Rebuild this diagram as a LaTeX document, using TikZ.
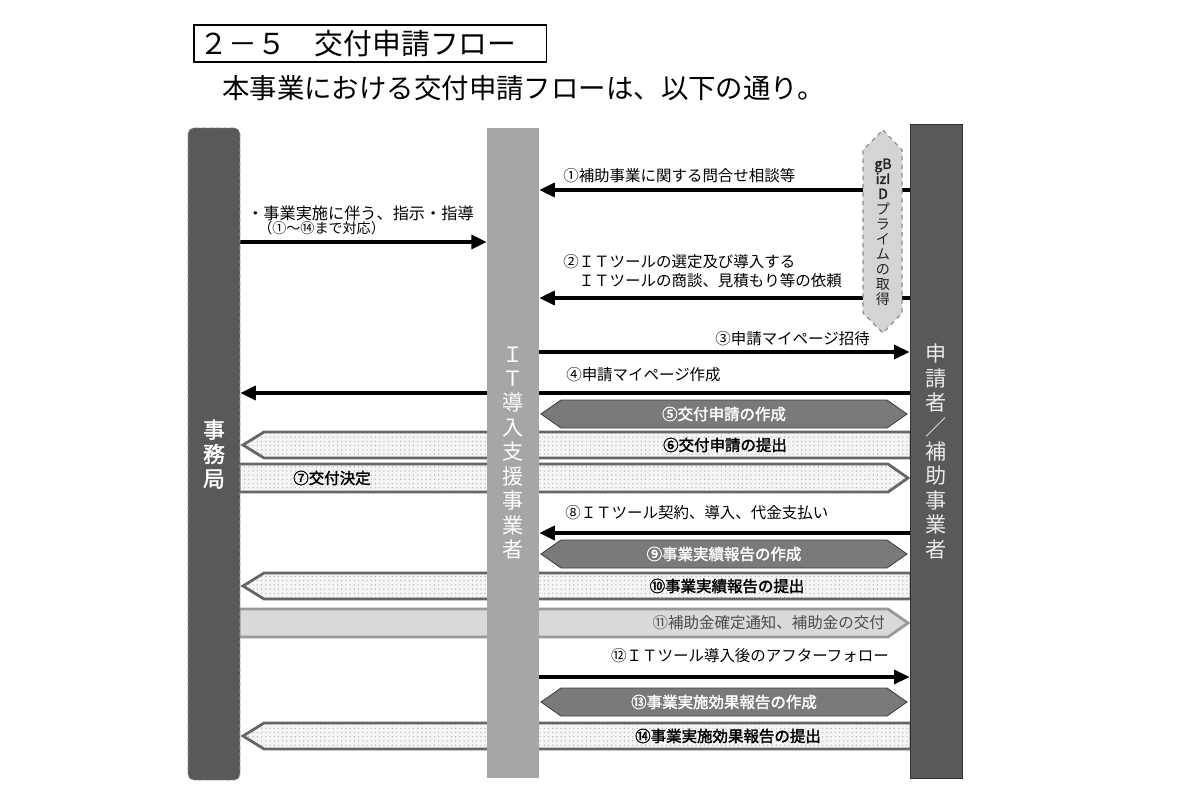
\documentclass[tikz,border=0pt]{standalone}
\usepackage{fontspec}
\setmainfont{Noto Sans CJK JP}
\newfontfamily\semib[FakeBold=2]{Noto Sans CJK JP}
\usetikzlibrary{arrows.meta,patterns}

\definecolor{lanedark}{HTML}{595959}
\definecolor{laneit}{HTML}{A6A6A6}
\definecolor{makegray}{HTML}{7A7A7A}
\definecolor{paygray}{HTML}{D9D9D9}

\pgfdeclarelayer{bg}
\pgfsetlayers{bg,main}

\begin{document}
\begin{tikzpicture}[x=0.025cm, y=-0.025cm,
  lane/.style={rectangle, minimum width=1.3cm, inner sep=0pt, align=center, font=\fontsize{15}{17.4}\selectfont},
  flow/.style={line width=2.2pt, -{Triangle[length=11pt,width=10pt]}},
  lbl/.style={font=\fontsize{11}{13}\selectfont, inner sep=0pt},
  blbl/.style={font=\fontsize{11}{13}\selectfont\semib, inner sep=0pt},
  make/.style={fill=makegray, draw=black!75, line width=0.6pt},
  submit/.style={draw=black!60, line width=2pt, preaction={fill=black!4}, preaction={pattern=dots, pattern color=black!30}}]

\useasboundingbox (0,0) rectangle (1200,800);

%% TITLE
\node[draw, line width=1.1pt, anchor=west, minimum height=0.925cm, text width=8.54cm, inner xsep=4pt, align=left, font=\fontsize{20.5}{24}\selectfont] (ttl) at (193,43.5) {２－５　交付申請フロー};
\node[anchor=west, inner sep=0pt, font=\fontsize{19.5}{23}\selectfont] (sub) at (222,88) {本事業における交付申請フローは、以下の通り。};

%% LANES
% Jimukyoku
\node[lane, fill=lanedark, draw=black!35, densely dashed, rounded corners=4pt, minimum height=16.3cm, text=white, font=\fontsize{15.5}{17.4}\semib] (jimu) at (214,454) {事\\務\\局};

% IT support vendor
\node[lane, fill=laneit, minimum height=16.25cm, text=white] (itv) at (513,453) {Ｉ\\Ｔ\\導\\入\\支\\援\\事\\業\\者};

% Applicant
\node[lane, fill=lanedark, draw=black!80, line width=0.6pt, minimum height=16.325cm, text=black!8] (shin) at (936,451.5) {申\\請\\者\\／\\補\\助\\事\\業\\者};

% gBizID
\draw[fill=black!17, draw=black!45, dashed, line width=0.8pt] (883,130) -- (902,150) -- (902,313) -- (883,333) -- (863,313) -- (863,150) -- cycle;
\node[align=center, inner sep=0pt, font=\fontsize{10}{10.7}\selectfont, text=black!85] (gbiz) at (883,232) {{\semib gB}\\{\semib izI}\\{\semib D}\\プ\\ラ\\イ\\ム\\の\\取\\得};

%% ROWS
\coordinate (r0) at (0,242);
\coordinate (r1) at (0,190);
\coordinate (r2) at (0,298);
\coordinate (r3) at (0,352);
\coordinate (r4) at (0,393);
\coordinate (r8) at (0,533);
\coordinate (r12) at (0,677);

\begin{pgfonlayer}{bg}
% Plain arrows
\draw[flow] (jimu.east |- r0) -- (itv.west |- r0);
\draw[flow] (shin.west |- r1) -- (itv.east |- r1);
\draw[flow] (shin.west |- r2) -- (itv.east |- r2);
\draw[flow] (itv.east |- r3) -- (shin.west |- r3);
\draw[flow] (shin.west |- r4) -- (jimu.east |- r4);
\draw[flow] (shin.west |- r8) -- (itv.east |- r8);
\draw[flow] (itv.east |- r12) -- (shin.west |- r12);

% Making (both ways)
\draw[make] (541,414) -- (561,400) -- (887,400) -- (907,414) -- (887,428) -- (561,428) -- cycle;
\draw[make] (541,554) -- (561,540) -- (887,540) -- (907,554) -- (887,568) -- (561,568) -- cycle;
\draw[make] (541,702) -- (561,688) -- (887,688) -- (907,702) -- (887,716) -- (561,716) -- cycle;

% Submitting (to the left)
\draw[submit] (243,445) -- (264,432) -- (911,432) -- (911,458) -- (264,458) -- cycle;
\draw[submit] (243,586) -- (264,573) -- (911,573) -- (911,599) -- (264,599) -- cycle;
\draw[submit] (243,736) -- (264,723) -- (911,723) -- (911,749) -- (264,749) -- cycle;

% Decision (to the right)
\draw[submit] (239,464) -- (888,464) -- (908,478) -- (888,492) -- (239,492) -- cycle;
\draw[fill=paygray, draw=black!40, line width=2pt] (239,609) -- (888,609) -- (908,623) -- (888,637) -- (239,637) -- cycle;
\end{pgfonlayer}

%% LABELS
\node[lbl, anchor=west, font=\fontsize{11.5}{13}\selectfont] (t0a) at (247,213) {・事業実施に伴う、指示・指導};
\node[lbl, anchor=west, font=\fontsize{10}{12}\selectfont] (t0b) at (258,228) {（①～⑭まで対応）};
\node[lbl, anchor=west] (t1) at (563,176) {①補助事業に関する問合せ相談等};
\node[lbl, anchor=west, align=left, font=\fontsize{11}{13.5}\selectfont] (t2) at (563,271.5) {②ＩＴツールの選定及び導入する\\\phantom{②}ＩＴツールの商談、見積もり等の依頼};
\node[lbl, anchor=east] (t3) at (870,339) {③申請マイページ招待};
\node[lbl, anchor=west] (t4) at (566,375) {④申請マイページ作成};
\node[blbl, text=white] (t5) at (724,414) {⑤交付申請の作成};
\node[blbl] (t6) at (725,445) {⑥交付申請の提出};
\node[blbl, anchor=west] (t7) at (293,478) {⑦交付決定};
\node[lbl, anchor=west] (t8) at (565,513) {⑧ＩＴツール契約、導入、代金支払い};
\node[blbl, text=white] (t9) at (724,554) {⑨事業実績報告の作成};
\node[blbl] (t10) at (727,586) {⑩事業実績報告の提出};
\node[lbl, anchor=east, text=black!70] (t11) at (885,623) {⑪補助金確定通知、補助金の交付};
\node[lbl, anchor=east] (t12) at (889,656) {⑫ＩＴツール導入後のアフターフォロー};
\node[blbl, text=white] (t13) at (724,702) {⑬事業実施効果報告の作成};
\node[blbl] (t14) at (728,736) {⑭事業実施効果報告の提出};

\end{tikzpicture}
\end{document}
